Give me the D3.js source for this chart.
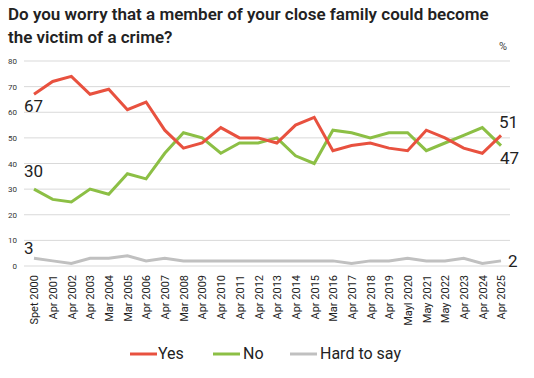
<!DOCTYPE html>
<html><head><meta charset="utf-8">
<script src="https://cdn.jsdelivr.net/npm/d3@7"></script>
<style>body{margin:0;background:#fff}svg{display:block;font-family:Roboto,"Liberation Sans",Arial,sans-serif}</style>
</head><body><svg id="c" width="534" height="378"></svg>
<script>
const categories=["Spet 2000","Apr 2001","Apr 2002","Apr 2003","Mar 2004","Mar 2005","Apr 2006","Apr 2007","Mar 2008","Apr 2009","Apr 2010","Apr 2011","Apr 2012","Apr 2013","Apr 2014","Apr 2015","Mar 2016","Apr 2017","Apr 2018","Apr 2019","Mayl 2020","May 2021","May 2022","Apr 2023","Apr 2024","Apr 2025"];
const yes=[67,72,74,67,69,61,64,53,46,48,54,50,50,48,55,58,45,47,48,46,45,53,50,46,44,51];
const no=[30,26,25,30,28,36,34,44,52,50,44,48,48,50,43,40,53,52,50,52,52,45,48,51,54,47];
const hard=[3,2,1,3,3,4,2,3,2,2,2,2,2,2,2,2,2,1,2,2,3,2,2,3,1,2];
const yTicks=[0,10,20,30,40,50,60,70,80];
const seriesNames=["Yes","No","Hard to say"];
const colors=["#e8513f","#8cbf45","#c0c0c0"];

const svg=d3.select("#c");
const x=d3.scalePoint().domain(categories).range([34,501]);
const y=d3.scaleLinear().domain([0,80]).range([266,61]);

// title
svg.append("text").attr("x",8).attr("y",20).attr("font-size",17).attr("font-weight",600).attr("fill","#222").text("Do you worry that a member of your close family could become");
svg.append("text").attr("x",8).attr("y",43).attr("font-size",17).attr("font-weight",600).attr("fill","#222").text("the victim of a crime?");
svg.append("text").attr("x",499).attr("y",50).attr("font-size",11).attr("fill","#444").text("%");

// grid
const grid=svg.append("g");
grid.selectAll("line").data(yTicks).join("line")
 .attr("x1",24).attr("x2",510).attr("y1",d=>y(d)).attr("y2",d=>y(d))
 .attr("stroke","#d9d9d9").attr("stroke-width",1);
// y axis
const ya=svg.append("g").attr("transform","translate(17,0)").call(d3.axisLeft(y).tickValues(yTicks).tickSize(0).tickPadding(0));
ya.select(".domain").remove();
ya.selectAll("text").attr("font-size",8).attr("fill","#333").attr("font-family","Roboto,Arial,sans-serif");

// x axis
const xa=svg.append("g").attr("transform","translate(0,273)").call(d3.axisBottom(x).tickSize(0).tickPadding(0));
xa.select(".domain").remove();
xa.selectAll("text").attr("font-size",11).attr("fill","#222").attr("font-family","Roboto,Arial,sans-serif")
 .attr("transform","rotate(-90)").attr("text-anchor","end").attr("dy","0.35em").attr("x",-2).attr("y",0);

// lines
const data=[yes,no,hard];
const line=d3.line().x((d,i)=>x(categories[i])).y(d=>y(d));
data.slice().reverse().forEach((s,ri)=>{
 const i=2-ri;
 svg.append("path").datum(s).attr("d",line).attr("fill","none").attr("stroke",colors[i]).attr("stroke-width",3).attr("stroke-linejoin","miter");
});

// data labels
const lab=(t,xx,yy,anchor)=>svg.append("text").attr("x",xx).attr("y",yy).attr("font-size",17).attr("fill","#222").attr("text-anchor",anchor||"start").text(t);
const f=categories[0], l=categories[categories.length-1];
lab(yes[0],x(f)-10,y(yes[0])+18);
lab(no[0],x(f)-10,y(no[0])-12);
lab(hard[0],x(f)-10,y(hard[0])-4);
lab(yes[25],x(l)-2,y(yes[25])-7);
lab(no[25],x(l)-1,y(no[25])+18);
lab(hard[25],x(l)+7,y(hard[25])+6);

// legend
const leg=[{x:130,tx:158},{x:213,tx:243},{x:290,tx:320}];
seriesNames.forEach((n,i)=>{
 svg.append("line").attr("x1",leg[i].x).attr("x2",leg[i].x+27).attr("y1",354).attr("y2",354).attr("stroke",colors[i]).attr("stroke-width",3);
 svg.append("text").attr("x",leg[i].tx).attr("y",359).attr("font-size",16).attr("fill","#222").text(n);
});
</script></body></html>
